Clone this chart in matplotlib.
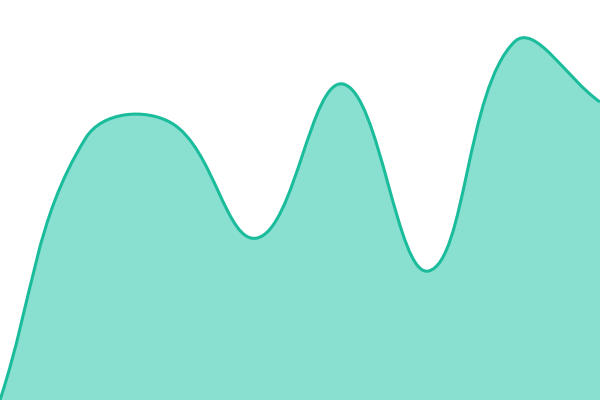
import numpy as np
import matplotlib
matplotlib.use("Agg")
import matplotlib.pyplot as plt
from matplotlib.path import Path
from matplotlib.patches import PathPatch

# series values, evenly spaced along x
labels = ["1", "2", "3", "4", "5", "6", "7", "8"]
values = [0, 262, 277, 162, 316, 129, 358, 298]

lineColor = "#1abc9c"
fillColor = "#8ae0d0"
tension = 0.4


def splineControls(pts, t):
    """chart.js style control points (distance weighted)"""
    n = len(pts)
    ctrl = []
    for i in range(n):
        prev = pts[i - 1] if i > 0 else pts[i]
        cur = pts[i]
        nxt = pts[i + 1] if i < n - 1 else pts[i]
        d01 = np.hypot(*(cur - prev))
        d12 = np.hypot(*(nxt - cur))
        tot = d01 + d12
        s01 = d01 / tot if tot else 0
        s12 = d12 / tot if tot else 0
        fa, fb = t * s01, t * s12
        cp1 = cur - fa * (nxt - prev)
        cp2 = cur + fb * (nxt - prev)
        ctrl.append((cp1, cp2))
    return ctrl


fig = plt.figure(figsize=(6, 4), dpi=100)
ax = fig.add_axes([0, 0, 1, 1])
ax.set_xlim(0, len(values) - 1)
ax.set_ylim(0, 400)
ax.axis("off")

x = np.arange(len(values))
pix = ax.transData.transform(np.column_stack([x, values]))
w, h = fig.bbox.width, fig.bbox.height
ctrl = splineControls(pix, tension)
# keep control points inside the chart area
ctrl = [(np.clip(a, [0, 0], [w, h]), np.clip(b, [0, 0], [w, h])) for a, b in ctrl]

verts = [pix[0]]
codes = [Path.MOVETO]
for i in range(1, len(pix)):
    verts += [ctrl[i - 1][1], ctrl[i][0], pix[i]]
    codes += [Path.CURVE4] * 3
inv = ax.transData.inverted()
lineVerts = inv.transform(np.array(verts))

fillVerts = np.vstack([lineVerts, [[x[-1], 0], [x[0], 0], lineVerts[0]]])
fillCodes = codes + [Path.LINETO, Path.LINETO, Path.CLOSEPOLY]
ax.add_patch(PathPatch(Path(fillVerts, fillCodes), facecolor=fillColor, edgecolor="none"))
ax.add_patch(PathPatch(Path(lineVerts, codes), facecolor="none", edgecolor=lineColor, linewidth=2.2))

plt.savefig("out.png", dpi=100)
